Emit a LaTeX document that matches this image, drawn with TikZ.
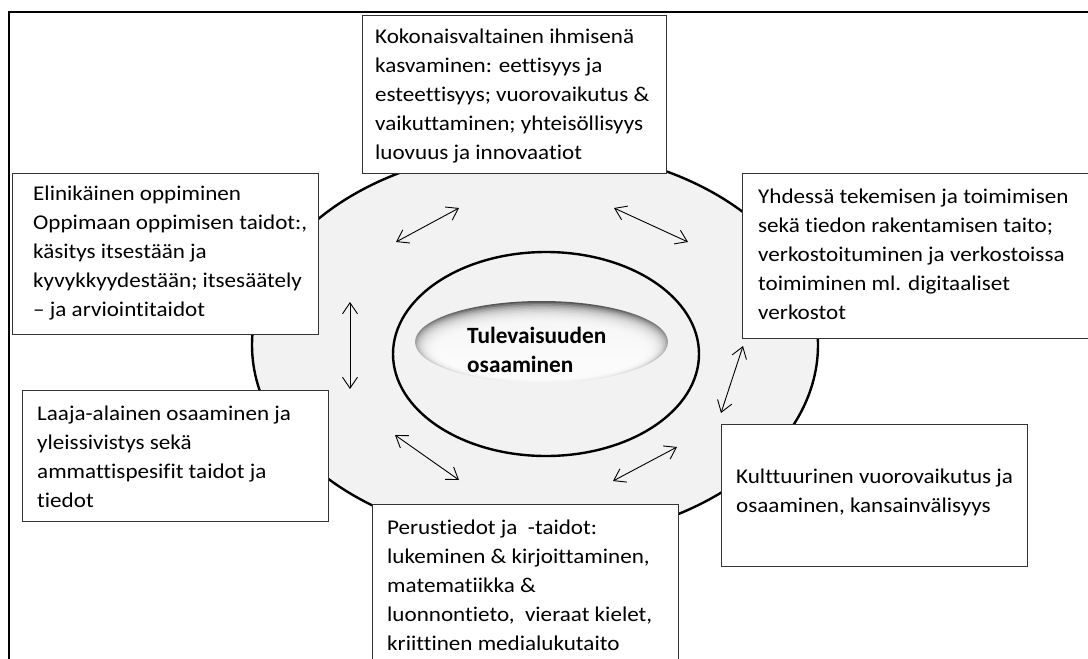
\documentclass[tikz,border=0pt]{standalone}
\usepackage{fontspec}
\setmainfont{Carlito}[Ligatures=NoCommon]
\newfontfamily\boxfont{Carlito}[FakeStretch=1.1, Ligatures=NoCommon]
\usetikzlibrary{arrows.meta}
\begin{document}
\begin{tikzpicture}[x=1pt,y=-1pt,
  box/.style={draw=black!80, line width=1.2pt, fill=white, inner sep=0pt, anchor=north west},
  boxtext/.style={anchor=north west, inner sep=0pt, align=left, text=black,
    font=\boxfont\fontsize{21}{29}\selectfont},
  ring/.style={line width=2.4pt, draw=black},
  link/.style={line width=0.9pt,
    {Straight Barb[length=11pt,width=15pt]}-{Straight Barb[length=11pt,width=15pt]}}
]
\useasboundingbox (0,0) rectangle (1088,659);
\clip (0,0) rectangle (1088,659);
\fill[white] (0,0) rectangle (1088,659);

% outer frame (runs off the right and bottom edges)
\draw[line width=2pt] (9,12) rectangle (1200,800);

% outer and inner rings
\draw[ring, fill=black!5] (535,345) ellipse [x radius=283pt, y radius=196pt];
\draw[ring] (546,354) ellipse [x radius=153pt, y radius=102pt];

% sunken lens in the centre: dark top rim fading to a light core
\shade[top color=black!68, bottom color=black!5] (541.5,342) ellipse [x radius=126.5pt, y radius=41pt];
\foreach \i in {1,...,14}{
  \pgfmathsetmacro\cy{342+0.6*\i}
  \pgfmathsetmacro\rx{126.5-1.5*\i}
  \pgfmathsetmacro\ry{41-0.95*\i}
  \fill[white, opacity=0.2] (541.5,\cy) ellipse [x radius=\rx pt, y radius=\ry pt];
}
\node[anchor=north west, inner sep=0pt, align=left,
  font=\bfseries\fontsize{23.3}{29}\selectfont] (core) at (467,322.7)
  {\strut Tulevaisuuden\\osaaminen};

% double-headed links around the ring
\coordinate (a1s) at (396,242); \coordinate (a1e) at (459,208);
\coordinate (a2s) at (614,208); \coordinate (a2e) at (688,242);
\coordinate (a3s) at (350,302); \coordinate (a3e) at (350,389);
\coordinate (a4s) at (743,346); \coordinate (a4e) at (721,413);
\coordinate (a5s) at (395,435); \coordinate (a5e) at (459,480);
\coordinate (a6s) at (677,447); \coordinate (a6e) at (613,481);
\draw[link] (a1s) -- (a1e);
\draw[link] (a2s) -- (a2e);
\draw[link] (a3s) -- (a3e);
\draw[link] (a4s) -- (a4e);
\draw[link] (a5s) -- (a5e);
\draw[link] (a6s) -- (a6e);

% competence boxes
\node[box, minimum width=304pt, minimum height=158pt] (koko) at (362,15) {};
\node[box, minimum width=306pt, minimum height=161pt] (elin) at (12,173) {};
\node[box, minimum width=400pt, minimum height=165pt] (yhd) at (742,173) {};
\node[box, minimum width=306pt, minimum height=131pt] (laaja) at (22,390) {};
\node[box, minimum width=306pt, minimum height=142pt] (kult) at (721,424) {};
\node[box, minimum width=306pt, minimum height=200pt] (perus) at (372,504) {};

\node[boxtext] (kokot) at ([shift={(13,7.7)}]koko.north west)
  {\strut Kokonaisvaltainen ihmisenä\\kasvaminen: eettisyys ja\\esteettisyys; vuorovaikutus \&\\vaikuttaminen; yhteisöllisyys\\luovuus ja innovaatiot};
\node[boxtext] (elint) at ([shift={(21,6.7)}]elin.north west)
  {\strut Elinikäinen oppiminen\\Oppimaan oppimisen taidot:,\\käsitys itsestään ja\\kyvykkyydestään; itsesäätely\\– ja arviointitaidot};
\node[boxtext] (yhdt) at ([shift={(16,9.7)}]yhd.north west)
  {\strut Yhdessä tekemisen ja toimimisen\\sekä tiedon rakentamisen taito;\\verkostoituminen ja verkostoissa\\toimiminen ml. digitaaliset\\verkostot};
\node[boxtext] (laajat) at ([shift={(15,9.7)}]laaja.north west)
  {\strut Laaja-alainen osaaminen ja\\yleissivistys sekä\\ammattispesifit taidot ja\\tiedot};
\node[boxtext] (kultt) at ([shift={(15,38.7)}]kult.north west)
  {\strut Kulttuurinen vuorovaikutus ja\\osaaminen, kansainvälisyys};
\node[boxtext] (perust) at ([shift={(15,9.7)}]perus.north west)
  {\strut Perustiedot ja\ \ -taidot:\\lukeminen \& kirjoittaminen,\\matematiikka \&\\luonnontieto,\ \ vieraat kielet,\\kriittinen medialukutaito};
\end{tikzpicture}
\end{document}
